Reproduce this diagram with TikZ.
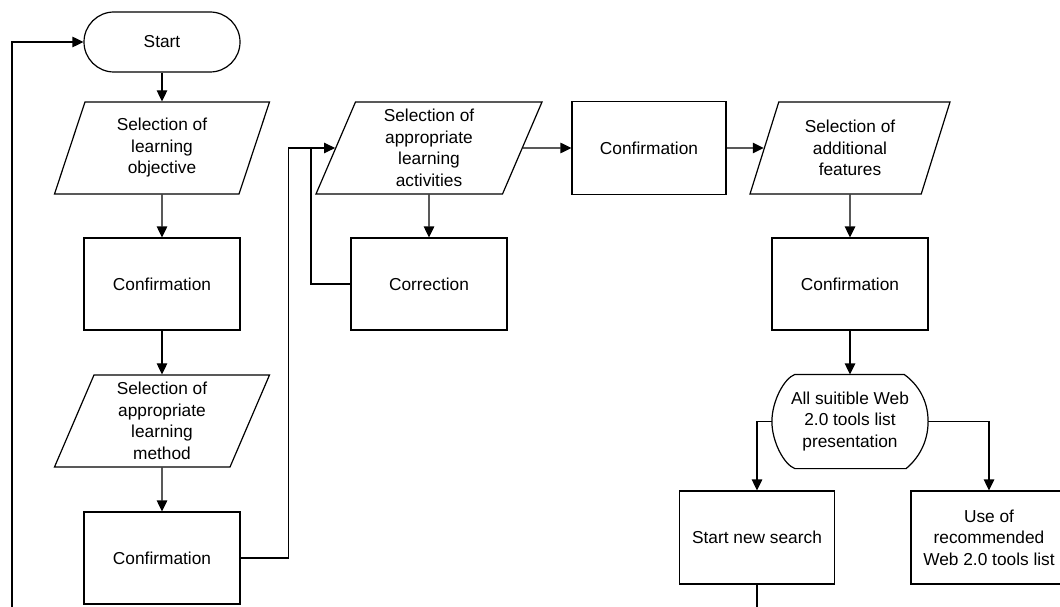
\documentclass[tikz,border=0pt]{standalone}
\usepackage{fontspec}
\setmainfont{Liberation Sans}
\usetikzlibrary{calc, shapes.geometric, arrows.meta, positioning}
\tikzset{
    startnode/.style = {draw, rectangle, rounded corners=30pt, minimum width=156pt, minimum height=60pt, inner sep=0pt},
    datanode/.style = {draw, trapezium, trapezium left angle=63.5, trapezium right angle=116.5, 
      trapezium stretches body, minimum height=92pt, inner sep=1pt},
    boxnode/.style = {draw, rectangle, minimum width=156pt, minimum height=92pt, inner sep=0pt},
    shownode/.style = {rectangle, minimum width=155pt, minimum height=93pt, inner sep=0pt},
    connect/.style = {black, -{Triangle[length=11pt, width=10.5pt]}},
    every node/.style = {font=\fontsize{17.3}{21.5}\selectfont},
    every text node part/.style={align=center}
}
\begin{document}
\begin{tikzpicture}[line width=1.2pt, node distance=0pt]
    \useasboundingbox (0pt,0pt) rectangle (1060pt,-607pt);
    \node[startnode, name=St] at (162pt,-42pt) {Start};
    \node[datanode, name=O, minimum width=215pt, below of = St, yshift=-106pt] {Selection of\\learning\\objective};
    \node[boxnode, name=C1, below of = O, yshift=-136pt] {Confirmation};
    \node[datanode, name=M, minimum width=215pt, below of = C1, yshift=-137pt] {Selection of\\appropriate\\learning\\method};
    \node[boxnode, name=C2, below of = M, yshift=-137pt] {Confirmation};
    \node[datanode, name=Act, minimum width=226pt, right of = O, xshift=267pt] {Selection of\\appropriate\\learning\\activities};
    \node[boxnode, name=Cor, below of = Act, yshift=-136pt] {Correction};
    \node[boxnode, name=C3, minimum width=154pt, minimum height=93pt, right of = Act, xshift=220pt] {Confirmation};
    \node[datanode, name=F, minimum width=200pt, right of = C3, xshift=201pt] {Selection of\\additional\\features};
    \node[boxnode, name=C4, below of = F, yshift=-136pt] {Confirmation};
    \node[shownode, name=P, below of = C4, yshift=-137.5pt] {All suitible Web\\2.0 tools list\\presentation};
    \draw ($(P.north west)+(23pt,0)$) -- ($(P.north east)+(-24pt,0)$)
        .. controls ($(P.north east)+(-10pt,-10pt)$) and ($(P.east)+(0,21pt)$) .. (P.east)
        .. controls ($(P.east)+(0,-21pt)$) and ($(P.south east)+(-10pt,10pt)$) .. ($(P.south east)+(-22pt,0)$)
        -- ($(P.south west)+(23pt,0)$)
        .. controls ($(P.south west)+(12pt,4pt)$) and ($(P.west)+(0pt,-20pt)$) .. (P.west)
        .. controls ($(P.west)+(0pt,20pt)$) and ($(P.north west)+(12pt,-4pt)$) .. cycle;
    \node[boxnode, name=N, minimum width=155pt, minimum height=93pt, below of = P, xshift=-93pt, yshift=-116pt] {Start new search};
    \node[boxnode, name=U, minimum height=93pt, right of = N, xshift=232pt] {Use of\\recommended\\Web 2.0 tools list};
    \coordinate[left of = Act, xshift=-118pt] (J);
    \coordinate[below of = N, yshift=-70pt] (Nend);
    \coordinate (Lend) at (12pt,-607pt);
    \draw[connect] (St) -- (O);
    \draw[connect] (O) -- (C1);
    \draw[connect] (C1) -- (M);
    \draw[connect] (M) -- (C2);
    \draw[connect] (C2.east) -- ++(48pt,0) |- (Act);
    \draw (Cor.west) -| (J);
    \draw[connect] (Act) -- (Cor);
    \draw[connect] (Act) -- (C3);
    \draw[connect] (C3) -- (F);
    \draw[connect] (F) -- (C4);
    \draw[connect] (C4) -- (P);
    \draw[connect] (P.west) -| (N);
    \draw[connect] (P.east) -| (U);
    \draw (N) -- (Nend);
    \draw[connect] (Lend) |- (St);
\end{tikzpicture}
\end{document}
